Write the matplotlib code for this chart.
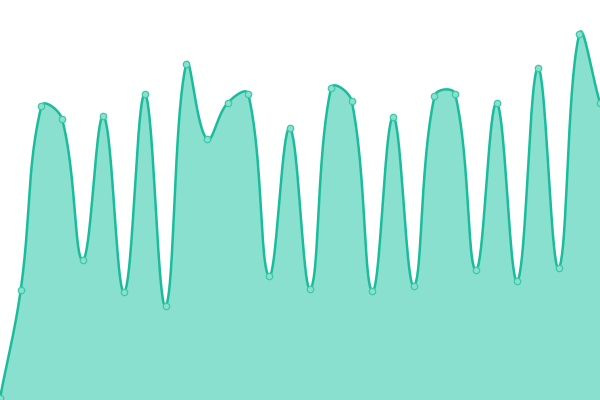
import numpy as np
import matplotlib
matplotlib.use("Agg")
import matplotlib.pyplot as plt

# values (pixel height above the bottom edge)
x_idx = list(range(30))
values = [2, 110, 294, 281, 140, 284, 108, 306, 94, 336,
          261, 297, 306, 124, 272, 111, 312, 299, 109, 283,
          114, 304, 306, 130, 297, 119, 332, 132, 366, 297]

LINE = "#1abc9c"
FILL = "#89e0cf"
W, H = 600, 400


def spline(x, y, tension=0.4, n=40):
    # chart.js style bezier spline, computed in pixel space
    px = np.asarray(x, float) * W / (len(x) - 1)
    py = np.asarray(y, float)
    pts = np.column_stack([px, py])
    k = len(pts)
    cp_prev = np.zeros_like(pts)
    cp_next = np.zeros_like(pts)
    for i in range(k):
        prev = pts[max(i - 1, 0)]
        cur = pts[i]
        nxt = pts[min(i + 1, k - 1)]
        d01 = np.hypot(*(cur - prev))
        d12 = np.hypot(*(nxt - cur))
        tot = d01 + d12
        s01 = d01 / tot if tot else 0
        s12 = d12 / tot if tot else 0
        cp_prev[i] = cur - tension * s01 * (nxt - prev)
        cp_next[i] = cur + tension * s12 * (nxt - prev)
    cp_prev[:, 1] = np.clip(cp_prev[:, 1], 0, H)
    cp_next[:, 1] = np.clip(cp_next[:, 1], 0, H)
    t = np.linspace(0, 1, n, endpoint=False)[:, None]
    segs = []
    for i in range(k - 1):
        p0, p1, p2, p3 = pts[i], cp_next[i], cp_prev[i + 1], pts[i + 1]
        segs.append((1 - t)**3 * p0 + 3 * (1 - t)**2 * t * p1
                    + 3 * (1 - t) * t**2 * p2 + t**3 * p3)
    segs.append(pts[-1:])
    out = np.vstack(segs)
    return out[:, 0] * (len(x) - 1) / W, out[:, 1]


fig = plt.figure(figsize=(6, 4), dpi=100)
ax = fig.add_axes([0, 0, 1, 1])
sx, sy = spline(x_idx, values)
ax.fill_between(sx, 0, sy, color=FILL, lw=0)
ax.plot(sx, sy, color=LINE, lw=1.8, solid_capstyle="round")
ax.plot(x_idx, values, "o", ms=4.6, mfc=FILL, mec="#3cc9a8", mew=0.9, clip_on=False)
ax.set_xlim(0, 29)
ax.set_ylim(0, 400)
ax.axis("off")
fig.savefig("out.png", dpi=100)
